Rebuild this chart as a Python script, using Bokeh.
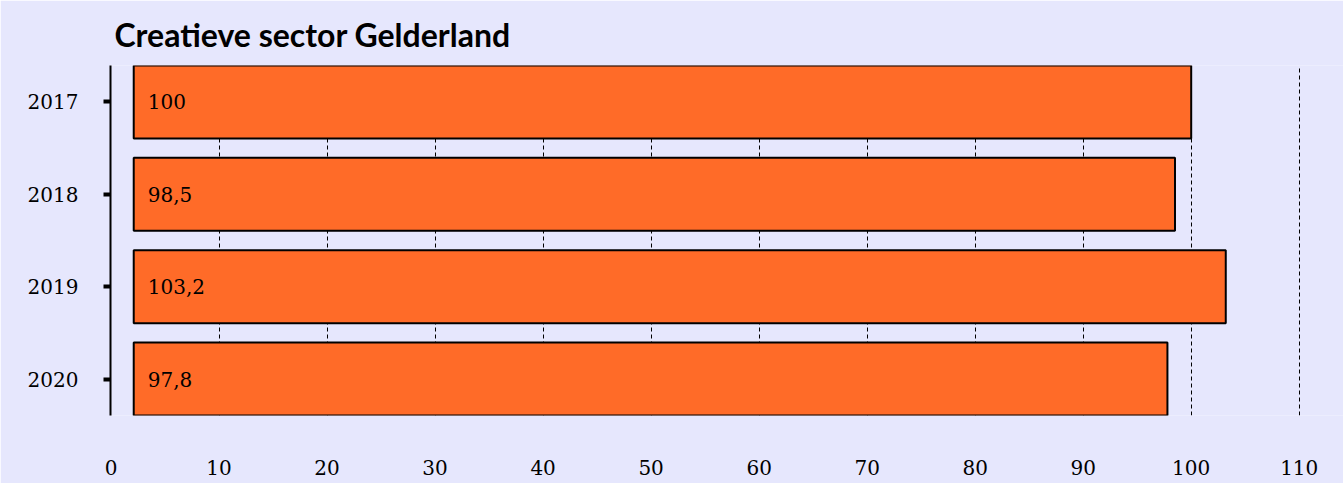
from bokeh.plotting import figure
from bokeh.models import FactorRange, Range1d, FixedTicker, ColumnDataSource
from bokeh.core.properties import value
from bokeh.embed import file_html
from bokeh.resources import INLINE

# data
years = ["2017", "2018", "2019", "2020"]
index_values = [100.0, 98.5, 103.2, 97.8]
x_ticks = [0, 10, 20, 30, 40, 50, 60, 70, 80, 90, 100, 110]
title_text = "Creatieve sector Gelderland"

labels = [f"{v:g}".replace(".", ",") for v in index_values]

BG = "#E6E7FD"
ORANGE = "#FF6B28"
SERIF = "DejaVu Serif"
BAR_LEFT = 2.1

src = ColumnDataSource(dict(year=years, val=index_values, lab=labels,
                            left=[BAR_LEFT] * len(years)))

p = figure(width=1343, height=483, output_backend="svg", toolbar_location=None,
           y_range=FactorRange(*years[::-1], factor_padding=0.267, range_padding=0),
           x_range=Range1d(-0.05, 114.1),
           min_border_left=110, min_border_right=0, min_border_top=65,
           min_border_bottom=68,
           background_fill_color=BG, border_fill_color=BG, outline_line_color=None)

p.title.text = title_text
p.title.text_font = "Lato"
p.title.text_font_style = "bold"
p.title.text_font_size = "32px"
p.title.text_color = "#000000"
p.title.standoff = 24
p.title.offset = 4

p.hbar(y="year", left="left", right="val", height=1.0, source=src,
       fill_color=ORANGE, line_color="black", line_width=2)

p.text(x="left", y="year", text="lab", source=src, x_offset=14,
       text_align="left", text_baseline="middle", text_color="black",
       text_font=value(SERIF), text_font_size="20px")

# x axis
p.xaxis.ticker = FixedTicker(ticks=x_ticks)
p.xaxis.axis_line_color = None
p.xaxis.major_tick_line_color = None
p.xaxis.minor_tick_line_color = None
p.xaxis.major_label_standoff = 38
p.xaxis.major_label_text_font = SERIF
p.xaxis.major_label_text_font_size = "20px"
p.xaxis.major_label_text_color = "black"

# y axis
p.yaxis.axis_line_color = "black"
p.yaxis.axis_line_width = 2
p.yaxis.major_tick_line_color = "black"
p.yaxis.major_tick_line_width = 4
p.yaxis.major_tick_out = 7
p.yaxis.major_tick_in = 0
p.yaxis.major_label_standoff = 25
p.yaxis.major_label_text_font = SERIF
p.yaxis.major_label_text_font_size = "20px"
p.yaxis.major_label_text_color = "black"

# grid (no line at 0, where the axis line is)
p.ygrid.grid_line_color = None
p.xgrid.ticker = FixedTicker(ticks=x_ticks[1:])
p.xgrid.grid_line_color = "black"
p.xgrid.grid_line_dash = "4 3"
p.xgrid.grid_line_width = 1

open("out.html", "w").write(file_html(p, INLINE))
